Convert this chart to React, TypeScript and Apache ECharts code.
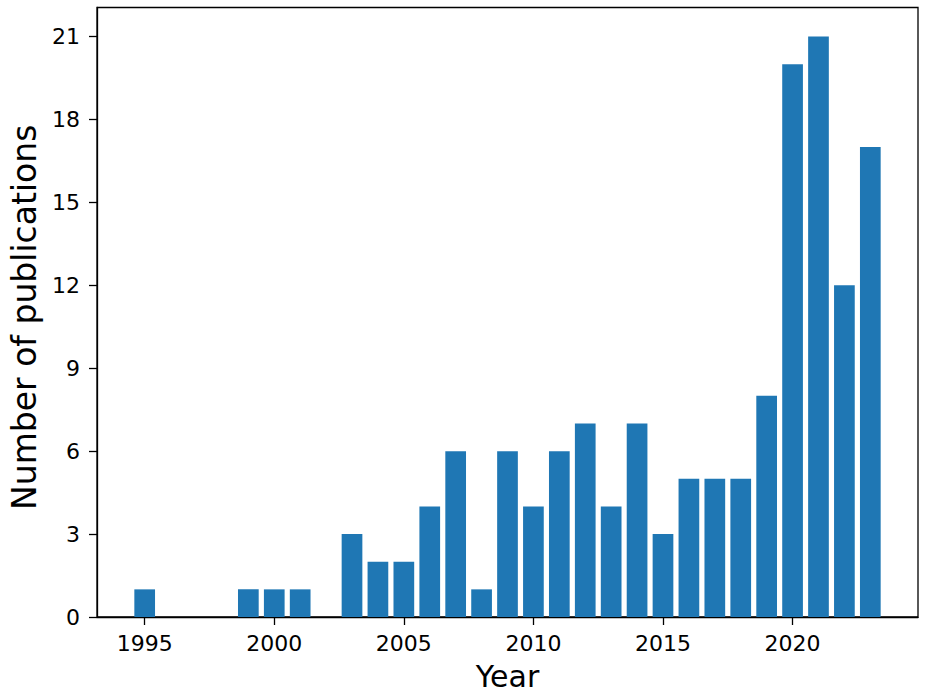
import React, { useEffect, useRef } from "react";
import * as echarts from "echarts";

const years = [1995, 1999, 2000, 2001, 2003, 2004, 2005, 2006, 2007, 2008, 2009, 2010, 2011, 2012, 2013, 2014, 2015, 2016, 2017, 2018, 2019, 2020, 2021, 2022, 2023];
const counts = [1, 1, 1, 1, 3, 2, 2, 4, 6, 1, 6, 4, 6, 7, 4, 7, 3, 5, 5, 5, 8, 20, 21, 12, 17];
const xTicks = [1995, 2000, 2005, 2010, 2015, 2020];
const yTicks = [0, 3, 6, 9, 12, 15, 18, 21];

export default function App() {
  const ref = useRef<HTMLDivElement>(null);
  useEffect(() => {
    if (!ref.current) return;
    const chart = echarts.init(ref.current, undefined, { renderer: "svg" });
    const font = "DejaVu Sans";
    chart.setOption({
      animation: false,
      backgroundColor: "#fff",
      grid: {
        left: 97,
        right: 17,
        top: 7.5,
        bottom: 78,
        show: true,
        borderColor: "#000",
        borderWidth: 1.3,
        backgroundColor: "transparent",
      },
      xAxis: {
        type: "value",
        min: 1993.16,
        max: 2024.84,
        name: "Year",
        nameLocation: "middle",
        nameGap: 44,
        nameTextStyle: { fontFamily: font, fontSize: 30, color: "#000" },
        axisLine: { show: true, onZero: false, lineStyle: { color: "#000", width: 1.3 } },
        axisTick: { show: true, length: 8, inside: false, customValues: xTicks, lineStyle: { color: "#000", width: 1.3 } },
        axisLabel: {
          customValues: xTicks,
          formatter: (v: number) => String(v),
          fontFamily: font,
          fontSize: 22,
          color: "#000",
          margin: 15,
        },
        splitLine: { show: false },
      },
      yAxis: {
        type: "value",
        min: 0,
        max: 22.05,
        name: "Number of publications",
        nameLocation: "middle",
        nameGap: 54,
        nameTextStyle: { fontFamily: font, fontSize: 33, color: "#000", padding: [0, 10, 0, 0] },
        axisLine: { show: true, lineStyle: { color: "#000", width: 1.3 } },
        axisTick: { show: true, length: 8, inside: false, customValues: yTicks, lineStyle: { color: "#000", width: 1.3 } },
        axisLabel: {
          customValues: yTicks,
          formatter: (v: number) => String(v),
          fontFamily: font,
          fontSize: 22,
          color: "#000",
          margin: 17,
        },
        splitLine: { show: false },
      },
      series: [
        {
          type: "bar",
          data: years.map((y, i) => [y, counts[i]]),
          barWidth: 20.7,
          itemStyle: { color: "#1f77b4" },
        },
      ],
    });
    return () => chart.dispose();
  }, []);
  return <div ref={ref} style={{ position: "fixed", left: 0, top: 0, width: 935, height: 696 }} />;
}
